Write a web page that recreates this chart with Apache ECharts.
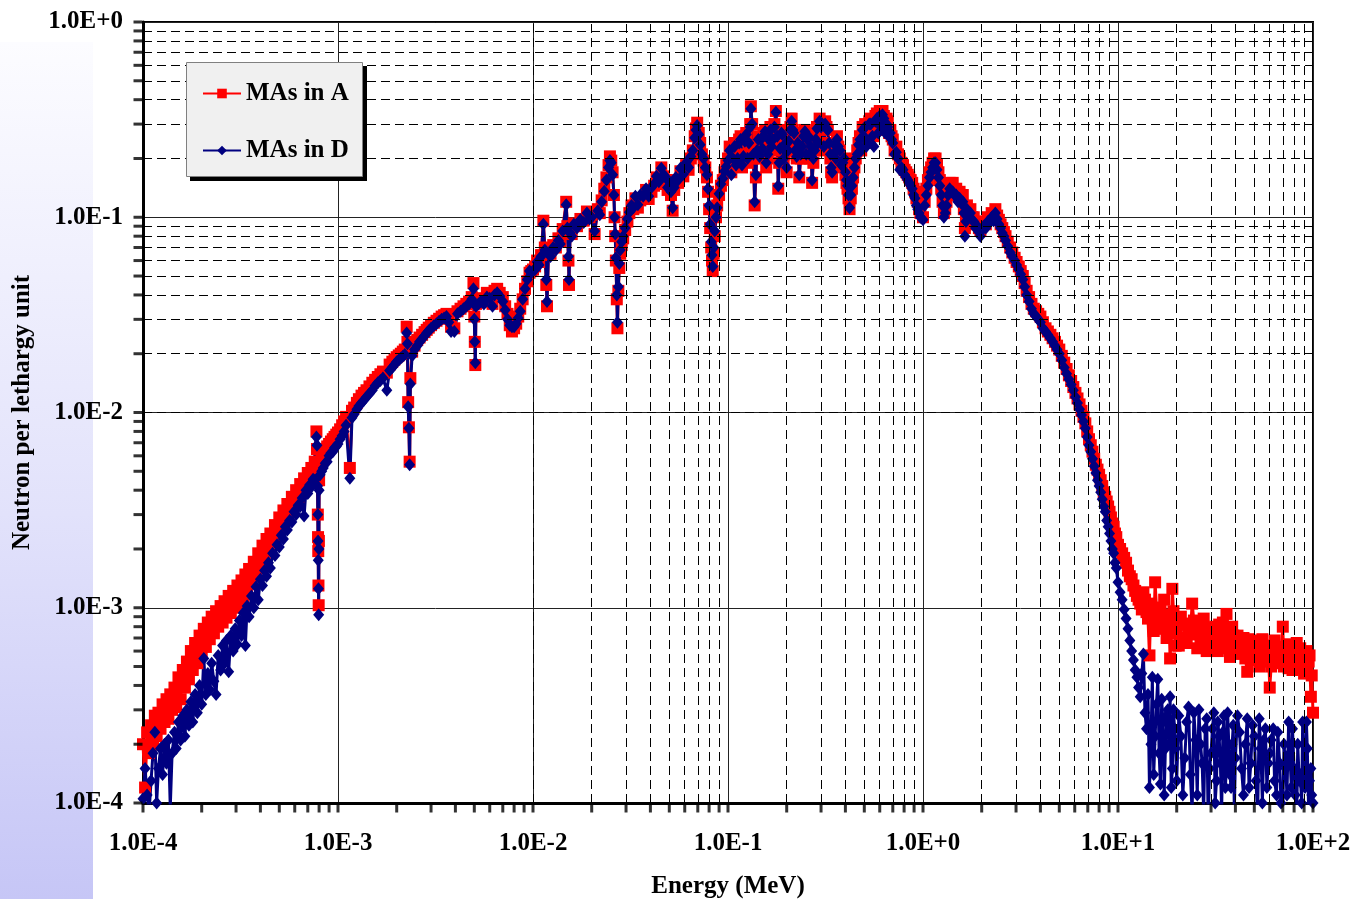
<!DOCTYPE html>
<html><head><meta charset="utf-8">
<script src="https://cdn.jsdelivr.net/npm/echarts@6.0.0/dist/echarts.min.js"></script>
<style>
html,body{margin:0;padding:0;background:#fff;}
#strip{position:absolute;left:0;top:42px;width:93px;height:857px;background:linear-gradient(to bottom,#fcfcff 0%,#e2e2fb 55%,#c6c6f6 100%);}
#c{position:absolute;left:0;top:0;width:1353px;height:899px;}
</style>
</head><body><div id="strip"></div><div id="c"></div>
<script>
// ---- data: [energy (MeV), MAs in A, MAs in D] ----
const spectrumE4 = [
[1.000e-4,2.0e-4,1.05e-4],[1.025e-4,1.2e-4,1.5e-4],[1.050e-4,2.3e-4,1.1e-4],[1.075e-4,1.8e-4,0.9e-4],
[1.100e-4,2.5e-4,1.3e-4],[1.125e-4,2.0e-4,1.8e-4],[1.150e-4,2.8e-4,2.3e-4],[1.175e-4,2.2e-4,1.0e-4],
[1.200e-4,2.9e-4,1.5e-4],[1.230e-4,2.4e-4,1.9e-4],[1.260e-4,3.2e-4,1.4e-4],[1.290e-4,2.6e-4,2.0e-4],
[1.320e-4,3.4e-4,1.6e-4],[1.350e-4,2.7e-4,2.1e-4],[1.380e-4,3.6e-4,0.95e-4],[1.410e-4,3.0e-4,1.8e-4],
[1.450e-4,3.9e-4,2.3e-4],[1.480e-4,3.1e-4,1.9e-4],[1.520e-4,4.4e-4,2.6e-4],[1.560e-4,3.4e-4,2.1e-4],
[1.600e-4,4.8e-4,2.8e-4],[1.640e-4,3.9e-4,2.2e-4],[1.680e-4,5.3e-4,3.0e-4],[1.720e-4,4.3e-4,2.5e-4],
[1.760e-4,6.0e-4,3.3e-4],[1.800e-4,4.8e-4,2.6e-4],[1.850e-4,6.6e-4,3.6e-4],[1.900e-4,5.2e-4,2.9e-4],
[1.950e-4,7.2e-4,4.0e-4],[2.000e-4,5.8e-4,3.2e-4],[2.050e-4,7.8e-4,5.5e-4],[2.100e-4,6.3e-4,3.6e-4],
[2.150e-4,8.4e-4,4.6e-4],[2.200e-4,6.9e-4,3.8e-4],[2.250e-4,9.0e-4,5.2e-4],[2.310e-4,7.4e-4,4.2e-4],
[2.370e-4,9.6e-4,3.6e-4],[2.430e-4,8.0e-4,5.7e-4],[2.500e-4,1.02e-3,4.8e-4],[2.560e-4,8.4e-4,6.4e-4],
[2.620e-4,1.08e-3,5.2e-4],[2.680e-4,8.9e-4,6.8e-4],[2.750e-4,1.15e-3,4.7e-4],[2.820e-4,9.4e-4,7.2e-4],
[2.900e-4,1.22e-3,6.0e-4],[2.970e-4,1.0e-3,7.8e-4],[3.050e-4,1.3e-3,6.5e-4],[3.120e-4,1.06e-3,8.6e-4],
[3.200e-4,1.38e-3,7.2e-4],[3.270e-4,1.15e-3,9.4e-4],[3.350e-4,1.48e-3,6.4e-4],[3.420e-4,1.24e-3,1.02e-3],
[3.500e-4,1.58e-3,9.0e-4],[3.600e-4,1.35e-3,1.15e-3],[3.700e-4,1.72e-3,1.0e-3],[3.800e-4,1.48e-3,1.28e-3],
[3.900e-4,1.9e-3,1.1e-3],[4.000e-4,1.65e-3,1.4e-3],[4.100e-4,2.08e-3,1.3e-3],[4.200e-4,1.8e-3,1.55e-3],
[4.300e-4,2.25e-3,1.45e-3],[4.400e-4,1.95e-3,1.7e-3],[4.500e-4,2.4e-3,1.6e-3],[4.620e-4,2.15e-3,1.9e-3],
[4.750e-4,2.65e-3,1.85e-3],[4.870e-4,2.35e-3,2.1e-3],[5.000e-4,2.9e-3,2.05e-3],[5.120e-4,2.6e-3,2.35e-3],
[5.250e-4,3.15e-3,2.25e-3],[5.370e-4,2.85e-3,2.6e-3],[5.500e-4,3.4e-3,2.5e-3],[5.650e-4,3.1e-3,2.8e-3],
[5.800e-4,3.7e-3,2.75e-3],[5.950e-4,3.4e-3,3.1e-3],[6.100e-4,4.0e-3,3.0e-3],[6.250e-4,3.7e-3,3.35e-3],
[6.400e-4,4.3e-3,3.3e-3],[6.550e-4,4.0e-3,3.65e-3],[6.700e-4,4.6e-3,2.95e-3],[6.850e-4,4.35e-3,4.0e-3],
[7.000e-4,4.9e-3,3.85e-3],[7.150e-4,4.65e-3,4.25e-3],[7.300e-4,5.2e-3,4.15e-3],[7.450e-4,5.0e-3,4.55e-3],
[7.600e-4,5.6e-3,4.5e-3],[7.750e-4,8.0e-3,7.5e-3],[7.800e-4,6.5e-3,6.8e-3],[7.850e-4,4.5e-3,4.2e-3],
[7.880e-4,3.0e-3,3.0e-3],[7.900e-4,2.3e-3,2.2e-3],[7.920e-4,1.95e-3,1.75e-3],[7.940e-4,1.3e-3,1.25e-3],
[7.960e-4,1.03e-3,0.92e-3],[7.980e-4,2.2e-3,2.0e-3],[8.000e-4,4.5e-3,4.0e-3],[8.100e-4,5.6e-3,4.8e-3],
[8.250e-4,5.9e-3,5.0e-3],[8.400e-4,6.3e-3,5.2e-3],[8.600e-4,6.5e-3,5.5e-3],[8.800e-4,6.7e-3,5.6e-3],
[9.000e-4,6.9e-3,6.0e-3],[9.200e-4,7.1e-3,6.2e-3],[9.400e-4,7.3e-3,6.3e-3],[9.600e-4,7.5e-3,6.6e-3],
[9.800e-4,7.7e-3,6.7e-3]
];
const spectrumE3 = [
[1.00e-3,7.9e-3,6.9e-3],[1.025e-3,8.2e-3,7.3e-3],[1.05e-3,8.6e-3,7.6e-3],[1.075e-3,9.0e-3,8.0e-3],
[1.10e-3,9.5e-3,8.6e-3],[1.15e-3,5.2e-3,4.6e-3],[1.18e-3,1.02e-2,9.4e-3],[1.21e-3,1.06e-2,9.8e-3],
[1.25e-3,1.12e-2,1.04e-2],[1.28e-3,1.17e-2,1.08e-2],[1.32e-3,1.22e-2,1.12e-2],[1.36e-3,1.26e-2,1.16e-2],
[1.40e-3,1.3e-2,1.2e-2],[1.45e-3,1.36e-2,1.25e-2],[1.50e-3,1.42e-2,1.3e-2],[1.55e-3,1.47e-2,1.37e-2],
[1.60e-3,1.52e-2,1.42e-2],[1.65e-3,1.57e-2,1.46e-2],[1.70e-3,1.62e-2,1.5e-2],[1.78e-3,1.6e-2,1.3e-2],
[1.84e-3,1.76e-2,1.64e-2],[1.90e-3,1.82e-2,1.7e-2],[1.95e-3,1.87e-2,1.76e-2],[2.00e-3,1.92e-2,1.82e-2],
[2.05e-3,1.96e-2,1.86e-2],[2.10e-3,2.0e-2,1.9e-2],[2.15e-3,2.05e-2,1.94e-2],[2.20e-3,2.1e-2,1.98e-2],
[2.25e-3,2.75e-2,2.55e-2],[2.27e-3,2.3e-2,2.25e-2],[2.29e-3,1.13e-2,1.07e-2],[2.31e-3,8.4e-3,8.3e-3],
[2.33e-3,5.6e-3,5.4e-3],[2.35e-3,1.5e-2,1.4e-2],[2.40e-3,2.05e-2,1.95e-2],[2.47e-3,2.2e-2,2.1e-2],
[2.55e-3,2.35e-2,2.2e-2],[2.62e-3,2.42e-2,2.3e-2],[2.70e-3,2.5e-2,2.38e-2],[2.78e-3,2.58e-2,2.47e-2],
[2.85e-3,2.65e-2,2.55e-2],[2.92e-3,2.72e-2,2.62e-2],[3.00e-3,2.8e-2,2.7e-2],[3.10e-3,2.88e-2,2.78e-2],
[3.20e-3,2.95e-2,2.85e-2],[3.30e-3,3.02e-2,2.93e-2],[3.40e-3,3.1e-2,3.0e-2],[3.50e-3,3.15e-2,3.05e-2],
[3.60e-3,3.2e-2,3.1e-2],[3.70e-3,3.05e-2,2.9e-2],[3.80e-3,2.75e-2,2.6e-2],[3.95e-3,2.7e-2,2.6e-2],
[4.10e-3,3.3e-2,3.2e-2],[4.25e-3,3.4e-2,3.3e-2],[4.40e-3,3.5e-2,3.4e-2],[4.55e-3,3.6e-2,3.5e-2],
[4.70e-3,3.7e-2,3.6e-2],[4.85e-3,3.9e-2,3.8e-2],[4.95e-3,4.6e-2,4.3e-2],[5.00e-3,3.1e-2,3.0e-2],
[5.03e-3,2.3e-2,2.3e-2],[5.06e-3,1.75e-2,1.8e-2],[5.10e-3,3.6e-2,3.5e-2],[5.25e-3,3.75e-2,3.6e-2],
[5.40e-3,3.85e-2,3.7e-2],[5.60e-3,3.7e-2,3.6e-2],[5.80e-3,4.1e-2,3.9e-2],[6.00e-3,4.0e-2,3.85e-2],
[6.20e-3,3.6e-2,3.5e-2],[6.35e-3,4.2e-2,4.0e-2],[6.55e-3,4.3e-2,4.1e-2],[6.75e-3,4.1e-2,3.95e-2],
[7.00e-3,3.9e-2,3.7e-2],[7.20e-3,3.5e-2,3.35e-2],[7.40e-3,3.2e-2,3.0e-2],[7.60e-3,2.8e-2,2.8e-2],
[7.80e-3,2.6e-2,2.75e-2],[8.00e-3,2.7e-2,2.75e-2],[8.20e-3,2.85e-2,2.85e-2],[8.40e-3,3.1e-2,3.05e-2],
[8.60e-3,3.4e-2,3.3e-2],[8.85e-3,3.8e-2,3.8e-2],[9.10e-3,4.3e-2,4.3e-2],[9.35e-3,4.7e-2,4.8e-2],
[9.60e-3,5.2e-2,5.3e-2],[9.80e-3,5.3e-2,5.2e-2]
];
const spectrumE2 = [
[1.00e-2,5.4e-2,5.3e-2],[1.025e-2,5.6e-2,5.4e-2],[1.05e-2,6.0e-2,5.9e-2],[1.075e-2,5.9e-2,5.7e-2],
[1.10e-2,6.4e-2,6.3e-2],[1.13e-2,9.6e-2,9.2e-2],[1.15e-2,7.0e-2,6.8e-2],[1.17e-2,4.5e-2,4.8e-2],
[1.18e-2,3.5e-2,3.7e-2],[1.20e-2,6.6e-2,6.5e-2],[1.23e-2,6.5e-2,6.3e-2],[1.27e-2,7.2e-2,7.0e-2],
[1.31e-2,7.0e-2,6.8e-2],[1.35e-2,7.8e-2,7.6e-2],[1.38e-2,7.5e-2,7.3e-2],[1.42e-2,8.7e-2,8.5e-2],
[1.48e-2,1.2e-1,1.16e-1],[1.50e-2,9.0e-2,8.8e-2],[1.52e-2,6.0e-2,6.3e-2],[1.53e-2,4.5e-2,4.8e-2],
[1.55e-2,8.5e-2,8.3e-2],[1.58e-2,8.2e-2,8.0e-2],[1.62e-2,9.3e-2,9.2e-2],[1.68e-2,9.0e-2,8.8e-2],
[1.75e-2,9.8e-2,9.7e-2],[1.82e-2,9.6e-2,9.4e-2],[1.89e-2,1.07e-1,1.05e-1],[1.95e-2,1.0e-1,9.8e-2],
[2.00e-2,1.03e-1,1.0e-1],[2.07e-2,8.2e-2,8.5e-2],[2.15e-2,1.1e-1,1.08e-1],[2.20e-2,1.05e-1,1.03e-1],
[2.25e-2,1.22e-1,1.2e-1],[2.32e-2,1.4e-1,1.36e-1],[2.38e-2,1.6e-1,1.55e-1],[2.44e-2,1.85e-1,1.8e-1],
[2.48e-2,2.05e-1,1.95e-1],[2.52e-2,1.95e-1,1.9e-1],[2.56e-2,1.7e-1,1.65e-1],[2.60e-2,1.3e-1,1.3e-1],
[2.62e-2,1.0e-1,1.0e-1],[2.64e-2,8.0e-2,8.2e-2],[2.66e-2,6.0e-2,6.2e-2],[2.69e-2,3.8e-2,4.0e-2],
[2.71e-2,2.7e-2,2.9e-2],[2.74e-2,4.2e-2,4.4e-2],[2.77e-2,5.5e-2,5.8e-2],[2.80e-2,6.5e-2,6.8e-2],
[2.85e-2,7.2e-2,7.5e-2],[2.90e-2,7.8e-2,8.0e-2],[2.97e-2,8.6e-2,8.8e-2],[3.05e-2,9.5e-2,9.8e-2],
[3.12e-2,1.05e-1,1.06e-1],[3.20e-2,1.15e-1,1.15e-1],[3.27e-2,1.1e-1,1.12e-1],[3.35e-2,1.25e-1,1.28e-1],
[3.45e-2,1.12e-1,1.16e-1],[3.55e-2,1.22e-1,1.3e-1],[3.67e-2,1.25e-1,1.28e-1],[3.80e-2,1.38e-1,1.4e-1],
[3.92e-2,1.24e-1,1.28e-1],[4.05e-2,1.35e-1,1.42e-1],[4.18e-2,1.45e-1,1.48e-1],[4.30e-2,1.6e-1,1.62e-1],
[4.42e-2,1.48e-1,1.52e-1],[4.55e-2,1.8e-1,1.78e-1],[4.68e-2,1.62e-1,1.65e-1],[4.80e-2,1.55e-1,1.6e-1],
[4.90e-2,1.38e-1,1.42e-1],[5.00e-2,1.45e-1,1.52e-1],[5.10e-2,1.3e-1,1.35e-1],[5.20e-2,1.08e-1,1.12e-1],
[5.30e-2,1.38e-1,1.42e-1],[5.40e-2,1.55e-1,1.6e-1],[5.55e-2,1.5e-1,1.55e-1],[5.70e-2,1.72e-1,1.78e-1],
[5.90e-2,1.62e-1,1.66e-1],[6.10e-2,1.85e-1,1.9e-1],[6.28e-2,1.75e-1,1.8e-1],[6.45e-2,2.0e-1,2.05e-1],
[6.60e-2,2.2e-1,2.2e-1],[6.75e-2,2.6e-1,2.55e-1],[6.85e-2,2.85e-1,2.8e-1],[6.95e-2,3.05e-1,2.95e-1],
[7.08e-2,2.7e-1,2.65e-1],[7.20e-2,2.4e-1,2.35e-1],[7.35e-2,2.1e-1,2.1e-1],[7.50e-2,1.95e-1,2.0e-1],
[7.65e-2,1.8e-1,1.8e-1],[7.80e-2,1.6e-1,1.65e-1],[7.90e-2,1.35e-1,1.4e-1],[8.00e-2,1.1e-1,1.15e-1],
[8.10e-2,8.8e-2,9.2e-2],[8.20e-2,7.0e-2,7.5e-2],[8.28e-2,6.0e-2,6.4e-2],[8.35e-2,5.3e-2,5.6e-2],
[8.45e-2,6.5e-2,7.0e-2],[8.55e-2,8.0e-2,8.5e-2],[8.68e-2,1.0e-1,1.0e-1],[8.80e-2,1.15e-1,1.12e-1],
[9.00e-2,1.3e-1,1.32e-1],[9.20e-2,1.45e-1,1.48e-1],[9.40e-2,1.55e-1,1.58e-1],[9.60e-2,1.7e-1,1.72e-1],
[9.80e-2,1.85e-1,1.82e-1]
];
const spectrumE1 = [
[0.100,0.20,0.195],[0.102,0.23,0.22],[0.104,0.17,0.165],[0.106,0.21,0.2],[0.108,0.24,0.23],
[0.110,0.19,0.185],[0.112,0.21,0.2],[0.114,0.25,0.24],[0.116,0.26,0.25],[0.118,0.18,0.185],
[0.120,0.2,0.205],[0.122,0.25,0.245],[0.124,0.27,0.265],[0.126,0.19,0.2],[0.128,0.23,0.24],
[0.130,0.3,0.29],[0.131,0.37,0.36],[0.133,0.3,0.3],[0.135,0.2,0.21],[0.137,0.115,0.12],
[0.139,0.16,0.165],[0.141,0.22,0.22],[0.143,0.26,0.25],[0.145,0.2,0.205],[0.147,0.25,0.25],
[0.150,0.22,0.225],[0.152,0.27,0.26],[0.155,0.28,0.275],[0.157,0.18,0.19],[0.160,0.2,0.21],
[0.162,0.26,0.25],[0.165,0.29,0.28],[0.167,0.22,0.23],[0.170,0.24,0.25],[0.173,0.3,0.29],
[0.176,0.35,0.345],[0.179,0.25,0.26],[0.181,0.14,0.145],[0.183,0.19,0.19],[0.185,0.22,0.225],
[0.188,0.28,0.27],[0.190,0.27,0.265],[0.193,0.19,0.2],[0.195,0.21,0.22],[0.198,0.25,0.24],
[0.200,0.17,0.18],[0.203,0.22,0.22],[0.205,0.25,0.245],[0.209,0.29,0.28],[0.212,0.32,0.31],
[0.215,0.28,0.28],[0.218,0.27,0.27],[0.221,0.22,0.22],[0.225,0.2,0.205],[0.228,0.24,0.24],
[0.232,0.16,0.165],[0.236,0.2,0.21],[0.240,0.22,0.23],[0.244,0.26,0.26],[0.248,0.28,0.275],
[0.252,0.2,0.21],[0.255,0.25,0.25],[0.258,0.27,0.26],[0.262,0.2,0.21],[0.266,0.23,0.23],
[0.270,0.15,0.155],[0.274,0.19,0.2],[0.278,0.22,0.22],[0.282,0.26,0.25],[0.286,0.29,0.285],
[0.290,0.24,0.24],[0.295,0.32,0.31],[0.300,0.3,0.29],[0.305,0.3,0.3],[0.310,0.22,0.23],
[0.315,0.31,0.3],[0.320,0.29,0.285],[0.325,0.28,0.28],[0.330,0.24,0.24],[0.335,0.2,0.21],
[0.338,0.17,0.18],[0.342,0.16,0.17],[0.347,0.21,0.21],[0.352,0.24,0.235],[0.357,0.19,0.2],
[0.362,0.26,0.25],[0.368,0.23,0.23],[0.375,0.22,0.22],[0.381,0.18,0.185],[0.388,0.19,0.19],
[0.394,0.2,0.2],[0.400,0.165,0.17],[0.405,0.15,0.155],[0.410,0.14,0.145],[0.415,0.125,0.13],
[0.420,0.11,0.112],[0.426,0.125,0.13],[0.432,0.14,0.145],[0.438,0.16,0.16],[0.445,0.18,0.18],
[0.452,0.2,0.2],[0.460,0.22,0.21],[0.467,0.24,0.235],[0.475,0.26,0.25],[0.482,0.22,0.22],
[0.490,0.29,0.28],[0.497,0.27,0.26],[0.505,0.3,0.29],[0.512,0.24,0.23],[0.520,0.25,0.24],
[0.530,0.31,0.3],[0.540,0.32,0.3],[0.550,0.27,0.26],[0.560,0.26,0.23],[0.570,0.33,0.31],
[0.580,0.34,0.32],[0.590,0.28,0.27],[0.600,0.35,0.33],[0.610,0.3,0.29],[0.620,0.35,0.335],
[0.630,0.33,0.32],[0.640,0.3,0.27],[0.650,0.32,0.3],[0.660,0.31,0.29],[0.670,0.27,0.26],
[0.680,0.28,0.27],[0.690,0.26,0.25],[0.700,0.25,0.24],[0.715,0.22,0.21],[0.730,0.23,0.215],
[0.745,0.21,0.2],[0.760,0.2,0.175],[0.775,0.19,0.18],[0.790,0.185,0.175],[0.805,0.175,0.165],
[0.820,0.17,0.16],[0.835,0.165,0.155],[0.850,0.16,0.15],[0.865,0.155,0.145],[0.880,0.15,0.14],
[0.895,0.14,0.13],[0.910,0.135,0.125],[0.925,0.125,0.115],[0.940,0.12,0.11],[0.955,0.11,0.105],
[0.970,0.105,0.1]
];
const spectrumE0 = [
[1.00,0.1,0.097],[1.02,0.12,0.115],[1.04,0.14,0.13],[1.06,0.155,0.145],[1.08,0.17,0.16],
[1.10,0.18,0.17],[1.12,0.19,0.18],[1.14,0.2,0.19],[1.16,0.2,0.19],[1.18,0.185,0.175],
[1.20,0.17,0.16],[1.22,0.155,0.145],[1.24,0.14,0.13],[1.26,0.12,0.115],[1.28,0.105,0.1],
[1.30,0.11,0.105],[1.32,0.12,0.115],[1.345,0.14,0.13],[1.37,0.15,0.14],[1.395,0.145,0.135],
[1.42,0.15,0.135],[1.45,0.135,0.13],[1.48,0.14,0.13],[1.51,0.13,0.12],[1.54,0.135,0.125],
[1.57,0.125,0.118],[1.60,0.13,0.12],[1.62,0.11,0.105],[1.64,0.088,0.08],[1.66,0.1,0.095],
[1.68,0.115,0.11],[1.715,0.105,0.1],[1.75,0.11,0.105],[1.785,0.1,0.097],[1.82,0.1,0.095],
[1.86,0.092,0.088],[1.90,0.095,0.09],[1.935,0.088,0.084],[1.97,0.085,0.08],[2.01,0.09,0.086],
[2.05,0.095,0.09],[2.10,0.092,0.088],[2.15,0.1,0.095],[2.20,0.098,0.094],[2.25,0.105,0.1],
[2.30,0.1,0.096],[2.35,0.11,0.105],[2.40,0.102,0.098],[2.45,0.097,0.092],[2.50,0.092,0.088],
[2.55,0.088,0.083],[2.60,0.084,0.08],[2.65,0.08,0.076],[2.72,0.075,0.071],[2.80,0.07,0.066],
[2.87,0.066,0.063],[2.95,0.062,0.06],[3.02,0.059,0.057],[3.10,0.056,0.054],[3.17,0.053,0.051],
[3.25,0.05,0.048],[3.32,0.046,0.044],[3.40,0.042,0.04],[3.50,0.039,0.037],[3.60,0.036,0.034],
[3.70,0.034,0.032],[3.80,0.033,0.031],[3.90,0.032,0.03],[4.00,0.031,0.029],[4.12,0.029,0.027],
[4.25,0.027,0.026],[4.37,0.026,0.025],[4.50,0.025,0.024],[4.62,0.024,0.023],[4.75,0.023,0.022],
[4.87,0.022,0.021],[5.00,0.021,0.02],[5.15,0.0195,0.0185],[5.30,0.018,0.017],[5.45,0.0167,0.0158],
[5.60,0.0155,0.0148],[5.75,0.0145,0.0139],[5.90,0.0135,0.013],[6.05,0.0126,0.012],[6.20,0.0118,0.0112],
[6.35,0.011,0.0104],[6.50,0.0102,0.0097],[6.65,0.0095,0.009],[6.80,0.0088,0.0083],[6.95,0.008,0.0075],
[7.10,0.0073,0.0068],[7.25,0.0068,0.0063],[7.40,0.0063,0.0058],[7.55,0.0058,0.0053],[7.70,0.0054,0.0049],
[7.85,0.0051,0.0045],[8.00,0.0048,0.0042],[8.15,0.0045,0.0039],[8.30,0.0042,0.0036],[8.45,0.0039,0.0033],
[8.60,0.0037,0.0031],[8.75,0.0035,0.0028],[8.90,0.0033,0.0026],[9.05,0.0031,0.0024],[9.20,0.0029,0.0022],
[9.35,0.0027,0.002],[9.50,0.0026,0.0019],[9.65,0.0024,0.0017],[9.80,0.0023,0.0016]
];
const spectrumE10 = [
[10.0,2.1e-3,1.35e-3],[10.25,2.0e-3,1.2e-3],[10.5,1.9e-3,1.1e-3],[10.75,1.8e-3,9.8e-4],
[11.0,1.7e-3,8.8e-4],[11.25,1.55e-3,7.8e-4],[11.5,1.45e-3,6.8e-4],[11.75,1.4e-3,6.0e-4],
[12.0,1.3e-3,5.4e-4],[12.25,1.22e-3,4.8e-4],[12.5,1.15e-3,4.4e-4],[12.75,1.1e-3,3.9e-4],
[13.0,1.05e-3,3.5e-4],[13.25,9.8e-4,4.6e-4],[13.5,1.2e-3,5.8e-4],[13.75,1.1e-3,2.9e-4],
[14.0,9.5e-4,2.4e-4],[14.25,8.8e-4,3.6e-4],[14.5,5.7e-4,1.2e-4],[14.75,1.05e-3,2.0e-4],
[15.0,9.0e-4,4.4e-4],[15.25,7.6e-4,1.4e-4],[15.5,1.35e-3,2.2e-4],[15.75,1.0e-3,3.2e-4],
[16.0,8.5e-4,4.3e-4],[16.25,9.2e-4,1.8e-4],[16.5,1.0e-3,1.25e-4],[16.75,8.2e-4,3.4e-4],
[17.0,7.8e-4,2.6e-4],[17.25,1.1e-3,1.1e-4],[17.5,9.2e-4,1.9e-4],[17.75,7.0e-4,2.8e-4],
[18.0,8.0e-4,3.0e-4],[18.25,9.0e-4,2.0e-4],[18.5,5.5e-4,3.5e-4],[18.75,7.4e-4,1.2e-4],
[19.0,1.25e-3,1.5e-4],[19.25,9.6e-4,3.0e-4],[19.5,8.5e-4,2.4e-4],[19.75,6.4e-4,1.9e-4],
[20.0,7.6e-4,1.3e-4],[20.5,6.4e-4,2.8e-4],[21.0,9.0e-4,2.2e-4],[21.5,8.2e-4,1.1e-4],
[22.0,7.0e-4,1.7e-4],[22.5,6.6e-4,2.6e-4],[23.0,8.3e-4,3.1e-4],[23.5,7.4e-4,1.4e-4],
[24.0,1.05e-3,0.9e-4],[24.5,8.6e-4,2.9e-4],[25.0,7.3e-4,2.1e-4],[25.5,6.2e-4,1.1e-4],
[26.0,8.0e-4,3.0e-4],[26.5,7.0e-4,2.0e-4],[27.0,6.8e-4,1.6e-4],[27.5,8.8e-4,0.9e-4],
[28.0,7.8e-4,2.4e-4],[28.5,6.0e-4,2.7e-4],[29.0,6.6e-4,0.8e-4],[29.5,7.9e-4,1.5e-4],
[30.0,7.5e-4,1.8e-4],[30.5,6.9e-4,2.4e-4],[31.0,6.4e-4,2.9e-4],[31.5,8.0e-4,1.0e-4],
[32.0,7.2e-4,1.3e-4],[32.5,6.0e-4,2.6e-4],[33.0,8.2e-4,2.2e-4],[33.5,7.0e-4,1.6e-4],
[34.0,6.5e-4,0.9e-4],[34.5,8.4e-4,2.3e-4],[35.0,7.4e-4,2.8e-4],[35.5,6.2e-4,1.2e-4],
[36.0,9.3e-4,1.5e-4],[36.5,7.6e-4,2.9e-4],[37.0,6.8e-4,2.0e-4],[37.5,5.6e-4,1.4e-4],
[38.0,6.1e-4,1.2e-4],[38.5,8.0e-4,2.0e-4],[39.0,7.2e-4,2.5e-4],[39.5,6.0e-4,0.9e-4],
[40.0,6.5e-4,1.7e-4],[41.0,7.2e-4,2.8e-4],[42.0,5.8e-4,2.3e-4],[43.0,6.2e-4,1.5e-4],
[44.0,7.0e-4,1.1e-4],[45.0,5.5e-4,2.0e-4],[46.0,4.7e-4,2.7e-4],[47.0,6.9e-4,1.2e-4],
[48.0,6.4e-4,1.6e-4],[49.0,5.4e-4,2.5e-4],[50.0,5.9e-4,2.2e-4],[51.0,6.2e-4,1.3e-4],
[52.0,6.8e-4,0.85e-4],[53.0,5.0e-4,2.7e-4],[54.0,5.6e-4,1.9e-4],[55.0,6.9e-4,1.0e-4],
[56.0,6.3e-4,2.1e-4],[57.0,5.5e-4,2.4e-4],[58.0,5.3e-4,1.2e-4],[59.0,6.4e-4,1.6e-4],
[60.0,3.9e-4,1.8e-4],[61.0,5.0e-4,2.1e-4],[62.5,5.8e-4,2.4e-4],[63.5,6.8e-4,1.3e-4],
[65.0,6.3e-4,1.1e-4],[66.0,5.5e-4,2.3e-4],[67.5,5.2e-4,1.6e-4],[68.5,6.0e-4,1.0e-4],
[70.0,8.0e-4,0.9e-4],[71.0,5.0e-4,2.0e-4],[72.5,5.6e-4,1.5e-4],[73.5,6.5e-4,1.1e-4],
[75.0,4.9e-4,2.6e-4],[76.0,5.4e-4,1.8e-4],[77.5,6.0e-4,1.2e-4],[78.5,4.8e-4,2.4e-4],
[80.0,5.2e-4,1.5e-4],[81.0,5.8e-4,1.1e-4],[82.5,6.6e-4,0.8e-4],[83.5,5.2e-4,2.0e-4],
[85.0,5.0e-4,1.3e-4],[86.0,6.2e-4,1.4e-4],[87.5,5.8e-4,1.0e-4],[88.5,4.9e-4,2.6e-4],
[90.0,4.6e-4,1.4e-4],[91.0,5.6e-4,1.2e-4],[92.5,6.0e-4,2.6e-4],[93.5,5.0e-4,1.9e-4],
[95.0,5.3e-4,0.9e-4],[96.0,5.7e-4,1.3e-4],[97.5,3.5e-4,1.5e-4],[98.5,4.5e-4,1.1e-4],
[100,2.9e-4,1.0e-4]
];
const seriesNames = ['MAs in A', 'MAs in D'];
const xDecades = [-4, -3, -2, -1, 0, 1, 2];
const yDecades = [-4, -3, -2, -1, 0];
const xTickLabels = ['1.0E-4', '1.0E-3', '1.0E-2', '1.0E-1', '1.0E+0', '1.0E+1', '1.0E+2'];
const yTickLabels = ['1.0E-4', '1.0E-3', '1.0E-2', '1.0E-1', '1.0E+0'];
const minorSteps = [2, 3, 4, 5, 6, 7, 8, 9];
const xName = 'Energy (MeV)';
const yName = 'Neutron per lethargy unit';

// ---- build ----
const allRows = [].concat(spectrumE4, spectrumE3, spectrumE2, spectrumE1, spectrumE0, spectrumE10);
const dataA = allRows.map(r => [r[0], r[1]]);
const dataD = allRows.map(r => [r[0], r[2]]);

function minorVals(decades) {
  const out = [];
  decades.slice(0, -1).forEach(d => minorSteps.forEach(k => out.push(k * Math.pow(10, d))));
  return out;
}
const xMinor = minorVals(xDecades), yMinor = minorVals(yDecades);
const xMajor = xDecades.map(d => Math.pow(10, d)), yMajor = yDecades.map(d => Math.pow(10, d));
const xMin = xMajor[0], xMax = xMajor[xMajor.length - 1];
const yMin = yMajor[0], yMax = yMajor[yMajor.length - 1];
const bottomTicks = xMajor.concat(xMinor).map(v => [v, yMin]);
const leftTicks = yMajor.concat(yMinor).map(v => [xMin, v]);

const FONT = 'Liberation Serif';
const labelStyle = { fontFamily: FONT, fontWeight: 'bold', fontSize: 25, color: '#000' };
function fmt(labels, decades) {
  return v => { const i = decades.indexOf(Math.round(Math.log10(v))); return i >= 0 ? labels[i] : ''; };
}

const chart = echarts.init(document.getElementById('c'), null, { renderer: 'canvas' });
chart.setOption({
  animation: false,
  backgroundColor: 'transparent',
  graphic: [
    { type: 'rect', z: 5, silent: true, shape: { x: 190, y: 66, width: 177, height: 115 }, style: { fill: '#000' } },
    { type: 'rect', z: 6, silent: true, shape: { x: 186.5, y: 62.5, width: 176, height: 114 }, style: { fill: '#f0f0f0', stroke: '#808080', lineWidth: 1 } }
  ],
  grid: { left: 143, right: 40, top: 22, bottom: 96, outerBoundsMode: 'none', containLabel: false, show: true, borderColor: '#000', borderWidth: 2, backgroundColor: 'transparent' },
  legend: {
    data: seriesNames, orient: 'vertical', left: 197, top: 76, itemGap: 32,
    itemWidth: 38, itemHeight: 12, z: 8, selectedMode: false,
    textStyle: { fontFamily: FONT, fontWeight: 'bold', fontSize: 25, color: '#000' }
  },
  xAxis: {
    type: 'log', logBase: 10, min: xMin, max: xMax,
    name: xName, nameLocation: 'middle', nameGap: 71,
    nameTextStyle: { fontFamily: FONT, fontWeight: 'bold', fontSize: 25, color: '#000' },
    axisLine: { show: true, onZero: false, lineStyle: { color: '#000', width: 3 } },
    axisTick: { show: false },
    splitLine: { show: true, lineStyle: { color: '#222', width: 1 } },
    axisLabel: Object.assign({ margin: 28, showMinLabel: true, showMaxLabel: true, formatter: fmt(xTickLabels, xDecades) }, labelStyle)
  },
  yAxis: {
    type: 'log', logBase: 10, min: yMin, max: yMax,
    name: yName, nameLocation: 'middle', nameGap: 108,
    nameTextStyle: { fontFamily: FONT, fontWeight: 'bold', fontSize: 25, color: '#000' },
    axisLine: { show: true, onZero: false, lineStyle: { color: '#000', width: 3 } },
    axisTick: { show: false },
    splitLine: { show: true, lineStyle: { color: '#222', width: 1 } },
    axisLabel: Object.assign({ margin: 20, showMinLabel: true, showMaxLabel: true, formatter: fmt(yTickLabels, yDecades) }, labelStyle)
  },
  series: [
    {
      name: 'minorGrid', type: 'scatter', data: [], z: 1, silent: true,
      markLine: {
        silent: true, animation: false, symbol: ['none', 'none'], label: { show: false },
        emphasis: { disabled: true },
        lineStyle: { type: [9, 5], color: '#000', width: 1 },
        data: xMinor.map(v => ({ xAxis: v })).concat(yMinor.map(v => ({ yAxis: v })))
      }
    },
    {
      name: seriesNames[0], type: 'line', data: dataA, z: 3,
      symbol: 'rect', symbolSize: 12, showSymbol: true, showAllSymbol: true,
      lineStyle: { color: '#ff0000', width: 3 }, itemStyle: { color: '#ff0000' },
      emphasis: { disabled: true }, clip: true
    },
    {
      name: seriesNames[1], type: 'line', data: dataD, z: 3,
      symbol: 'diamond', symbolSize: [11, 13], showSymbol: true, showAllSymbol: true,
      lineStyle: { color: '#000080', width: 3 }, itemStyle: { color: '#000080' },
      emphasis: { disabled: true }, clip: true
    },
    {
      name: 'xTicks', type: 'scatter', data: bottomTicks, z: 4, silent: true, clip: false,
      symbol: 'rect', symbolSize: [3, 9], symbolOffset: [0, 5], itemStyle: { color: '#000' }
    },
    {
      name: 'yTicks', type: 'scatter', data: leftTicks, z: 4, silent: true, clip: false,
      symbol: 'rect', symbolSize: [9, 3], symbolOffset: [-5, 0], itemStyle: { color: '#000' }
    }
  ]
});
</script>
</body></html>
